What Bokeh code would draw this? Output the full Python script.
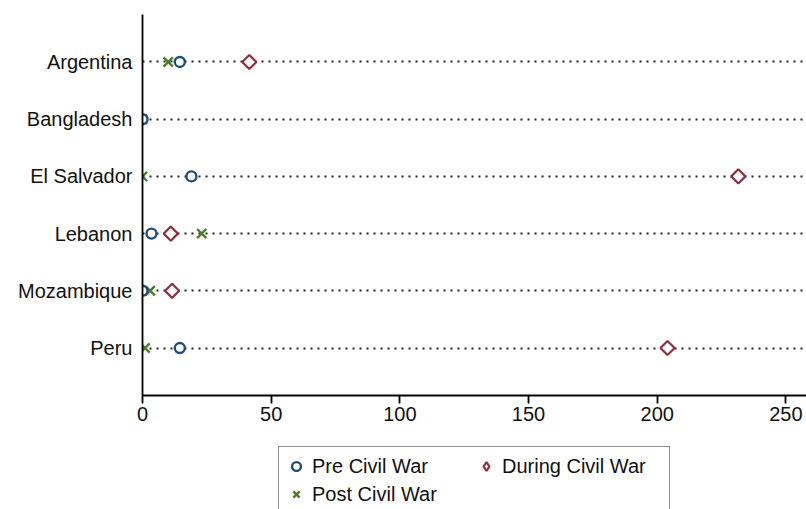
import math
from bokeh.plotting import figure
from bokeh.layouts import column
from bokeh.models import FactorRange, Range1d, Legend, LegendItem, FixedTicker, ColumnDataSource
from bokeh.embed import file_html
from bokeh.resources import INLINE

countries = ["Argentina", "Bangladesh", "El Salvador", "Lebanon", "Mozambique", "Peru"]
pre_war = [14.5, 0.0, 19.0, 3.5, 0.0, 14.5]
during_war = [41.5, float("nan"), 231.5, 11.0, 11.5, 204.0]
post_war = [10.0, 0.0, 0.0, 23.0, 3.0, 1.0]
x_ticks = [0, 50, 100, 150, 200, 250]
series_labels = ["Pre Civil War", "During Civil War", "Post Civil War"]

FONT = "Liberation Sans"
BLUE = "#1f4e79"
RED = "#8e3040"
GREEN = "#4f7a2c"

src = ColumnDataSource(dict(country=countries, pre=pre_war, during=during_war, post=post_war))

p = figure(
    width=806, height=432,
    y_range=FactorRange(factors=list(reversed(countries)), range_padding=0.33, range_padding_units="absolute"),
    x_range=Range1d(0, 258),
    output_backend="svg", toolbar_location=None,
    min_border_left=142, min_border_right=0, min_border_top=14, min_border_bottom=37,
)
p.outline_line_color = None
p.background_fill_color = "white"
p.border_fill_color = "white"

p.xgrid.visible = False
p.ygrid.grid_line_color = "#222222"
p.ygrid.grid_line_dash = "2 5"
p.ygrid.grid_line_width = 1.9

marker_styles = dict(
    post=dict(marker="x", size=13, line_width=2.4, line_color=GREEN),
    during=dict(marker="square", angle=math.pi / 4, size=10, line_width=2.2, line_color=RED, fill_color="white"),
    pre=dict(marker="circle", size=10, line_width=2.4, line_color=BLUE, fill_color="white"),
)

r_post = p.scatter("post", "country", source=src, **marker_styles["post"])
r_during = p.scatter("during", "country", source=src, **marker_styles["during"])
r_pre = p.scatter("pre", "country", source=src, **marker_styles["pre"])

for ax in (p.xaxis[0], p.yaxis[0]):
    ax.axis_line_color = "black"
    ax.axis_line_width = 1.8
    ax.major_label_text_font = FONT
    ax.major_label_text_font_size = "20px"
    ax.major_label_text_color = "#111111"
    ax.minor_tick_line_color = None

p.xaxis.ticker = FixedTicker(ticks=x_ticks)
p.xaxis.major_tick_out = 8
p.xaxis.major_tick_in = 0
p.xaxis.major_tick_line_width = 1.8
p.xaxis.major_label_standoff = 3

p.yaxis.major_tick_out = 0
p.yaxis.major_tick_in = 0
p.yaxis.major_tick_line_color = None
p.yaxis.major_label_standoff = 10

# Legend panel below the chart (its frame is aligned with the chart's frame)
p2 = figure(
    width=806, height=77,
    x_range=Range1d(0, 1), y_range=Range1d(0, 1),
    x_axis_location=None, y_axis_location=None,
    output_backend="svg", toolbar_location=None,
    min_border_left=0, min_border_right=0, min_border_top=0, min_border_bottom=0,
)
p2.outline_line_color = None
p2.xgrid.visible = False
p2.ygrid.visible = False

placeholder = ColumnDataSource(dict(x=[float("nan")], y=[float("nan")]))
l_pre = p2.scatter("x", "y", source=placeholder, **marker_styles["pre"])
l_during = p2.scatter("x", "y", source=placeholder, marker="diamond", line_width=2.2,
                      line_color=RED, fill_color="white")
l_post = p2.scatter("x", "y", source=placeholder, **marker_styles["post"])

legend = Legend(
    items=[
        LegendItem(label=series_labels[0], renderers=[l_pre]),
        LegendItem(label=series_labels[2], renderers=[l_post]),
        LegendItem(label=series_labels[1], renderers=[l_during]),
    ],
    ncols=2,
    location=(136, -5),
    border_line_color="#222222",
    border_line_width=1.3,
    background_fill_color="white",
    background_fill_alpha=1.0,
    label_text_font=FONT,
    label_text_font_size="20px",
    label_text_color="#111111",
    glyph_width=22, glyph_height=26, label_height=26, label_width=161,
    label_standoff=5, spacing=2, padding=6, margin=0,
)
p2.add_layout(legend, "center")

layout = column(p, p2, spacing=0)
open("out.html", "w").write(file_html(layout, INLINE))
